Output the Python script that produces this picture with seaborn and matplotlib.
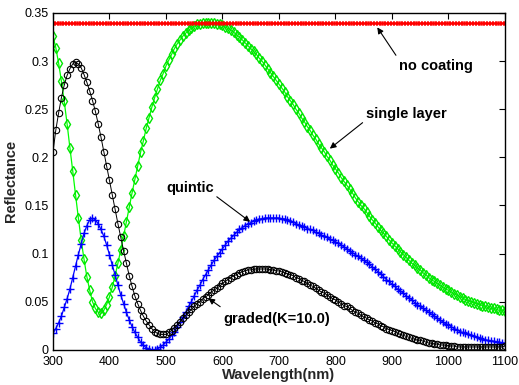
import matplotlib
matplotlib.use("Agg")
import matplotlib.pyplot as plt
import seaborn as sns

# sampling grid (nm)
wavelength = list(range(300, 1101, 5))

no_coating_level = 0.340

single_layer = [
    0.326, 0.314, 0.298, 0.279, 0.258, 0.235, 0.210, 0.186, 0.161, 0.137,
    0.114, 0.094, 0.076, 0.062, 0.050, 0.043, 0.039, 0.038, 0.041, 0.047,
    0.055, 0.065, 0.077, 0.090, 0.104, 0.118, 0.133, 0.148, 0.163, 0.177,
    0.191, 0.205, 0.217, 0.230, 0.241, 0.252, 0.262, 0.271, 0.280, 0.287,
    0.295, 0.301, 0.307, 0.313, 0.318, 0.322, 0.326, 0.329, 0.332, 0.334,
    0.336, 0.338, 0.339, 0.340, 0.340, 0.340, 0.340, 0.340, 0.339, 0.338,
    0.337, 0.335, 0.334, 0.332, 0.330, 0.327, 0.325, 0.322, 0.319, 0.316,
    0.313, 0.310, 0.307, 0.303, 0.300, 0.296, 0.292, 0.288, 0.284, 0.280,
    0.276, 0.272, 0.268, 0.263, 0.259, 0.255, 0.250, 0.246, 0.241, 0.237,
    0.232, 0.228, 0.223, 0.219, 0.214, 0.210, 0.206, 0.201, 0.197, 0.192,
    0.188, 0.184, 0.179, 0.175, 0.171, 0.167, 0.163, 0.158, 0.154, 0.150,
    0.147, 0.143, 0.139, 0.135, 0.132, 0.128, 0.124, 0.121, 0.118, 0.114,
    0.111, 0.108, 0.105, 0.102, 0.099, 0.096, 0.093, 0.090, 0.088, 0.085,
    0.083, 0.080, 0.078, 0.075, 0.073, 0.071, 0.069, 0.067, 0.065, 0.063,
    0.062, 0.060, 0.058, 0.057, 0.055, 0.054, 0.052, 0.051, 0.050, 0.049,
    0.048, 0.047, 0.046, 0.045, 0.044, 0.043, 0.043, 0.042, 0.041, 0.041,
    0.040,
]

quintic = [
    0.017, 0.022, 0.028, 0.035, 0.044, 0.053, 0.063, 0.075, 0.087, 0.099,
    0.110, 0.121, 0.129, 0.135, 0.137, 0.135, 0.131, 0.125, 0.118, 0.109,
    0.099, 0.088, 0.078, 0.067, 0.057, 0.048, 0.039, 0.031, 0.024, 0.018,
    0.013, 0.008, 0.005, 0.002, 0.001, 0.000, 0.000, 0.001, 0.003, 0.005,
    0.008, 0.011, 0.015, 0.019, 0.024, 0.029, 0.034, 0.039, 0.045, 0.050,
    0.056, 0.062, 0.067, 0.073, 0.078, 0.083, 0.088, 0.093, 0.097, 0.101,
    0.105, 0.109, 0.113, 0.116, 0.119, 0.122, 0.125, 0.127, 0.129, 0.131,
    0.132, 0.134, 0.135, 0.136, 0.136, 0.137, 0.137, 0.137, 0.137, 0.137,
    0.137, 0.136, 0.136, 0.135, 0.134, 0.133, 0.131, 0.130, 0.129, 0.128,
    0.126, 0.125, 0.124, 0.122, 0.121, 0.119, 0.118, 0.117, 0.115, 0.114,
    0.112, 0.111, 0.109, 0.107, 0.105, 0.103, 0.101, 0.099, 0.097, 0.095,
    0.093, 0.091, 0.089, 0.086, 0.084, 0.081, 0.079, 0.076, 0.073, 0.071,
    0.068, 0.066, 0.063, 0.061, 0.059, 0.056, 0.054, 0.052, 0.049, 0.047,
    0.045, 0.043, 0.041, 0.039, 0.037, 0.035, 0.033, 0.031, 0.029, 0.027,
    0.026, 0.024, 0.022, 0.021, 0.019, 0.018, 0.017, 0.016, 0.015, 0.014,
    0.013, 0.012, 0.011, 0.010, 0.010, 0.009, 0.009, 0.008, 0.008, 0.007,
    0.007,
]

graded = [
    0.205, 0.228, 0.246, 0.262, 0.275, 0.285, 0.292, 0.297, 0.299, 0.297,
    0.293, 0.286, 0.278, 0.269, 0.259, 0.248, 0.235, 0.221, 0.206, 0.191,
    0.176, 0.161, 0.146, 0.131, 0.117, 0.103, 0.090, 0.077, 0.066, 0.056,
    0.048, 0.041, 0.035, 0.030, 0.026, 0.022, 0.019, 0.017, 0.016, 0.016,
    0.016, 0.018, 0.020, 0.023, 0.026, 0.029, 0.033, 0.036, 0.039, 0.042,
    0.045, 0.048, 0.050, 0.053, 0.055, 0.057, 0.060, 0.062, 0.064, 0.066,
    0.069, 0.071, 0.073, 0.075, 0.077, 0.078, 0.080, 0.081, 0.082, 0.083,
    0.083, 0.084, 0.084, 0.084, 0.084, 0.084, 0.084, 0.083, 0.083, 0.082,
    0.082, 0.081, 0.080, 0.079, 0.078, 0.077, 0.075, 0.074, 0.072, 0.071,
    0.069, 0.067, 0.066, 0.064, 0.062, 0.060, 0.059, 0.057, 0.055, 0.053,
    0.052, 0.050, 0.048, 0.046, 0.045, 0.043, 0.041, 0.039, 0.038, 0.036,
    0.034, 0.033, 0.031, 0.030, 0.028, 0.027, 0.025, 0.024, 0.022, 0.021,
    0.020, 0.019, 0.017, 0.016, 0.015, 0.014, 0.013, 0.012, 0.011, 0.010,
    0.010, 0.009, 0.008, 0.007, 0.007, 0.006, 0.006, 0.005, 0.005, 0.005,
    0.004, 0.004, 0.004, 0.003, 0.003, 0.003, 0.003, 0.003, 0.003, 0.003,
    0.003, 0.003, 0.003, 0.003, 0.003, 0.003, 0.003, 0.003, 0.003, 0.003,
    0.004,
]

no_coating = [no_coating_level for _ in wavelength]

x_ticks = [300, 400, 500, 600, 700, 800, 900, 1000, 1100]
y_ticks = [0, 0.05, 0.1, 0.15, 0.2, 0.25, 0.3, 0.35]
y_tick_labels = ["0", "0.05", "0.1", "0.15", "0.2", "0.25", "0.3", "0.35"]

sns.set_theme(style="white")
plt.rcParams["font.family"] = ["Liberation Sans", "DejaVu Sans"]
plt.rcParams["xtick.direction"] = "in"
plt.rcParams["ytick.direction"] = "in"

fig = plt.figure(figsize=(5.19, 3.85), dpi=100)
ax = fig.add_axes([0.102, 0.0914, 0.871, 0.875])

sns.lineplot(x=wavelength, y=single_layer, ax=ax, color="#00ff00", linewidth=0.9,
             marker="d", markersize=4.8, markerfacecolor="none",
             markeredgecolor="#00e600", markeredgewidth=1.0, estimator=None, sort=False)
sns.lineplot(x=wavelength, y=quintic, ax=ax, color="#0000ff", linewidth=0.9,
             marker="+", markersize=5.5, markeredgecolor="#0000ff",
             markeredgewidth=1.0, estimator=None, sort=False)
sns.lineplot(x=wavelength, y=graded, ax=ax, color="black", linewidth=0.7,
             marker="o", markersize=4.6, markerfacecolor="none",
             markeredgecolor="black", markeredgewidth=0.8, estimator=None, sort=False)
sns.lineplot(x=wavelength, y=no_coating, ax=ax, color="#ff0000", linewidth=0.9,
             marker="x", markersize=3.5, markeredgecolor="#ff0000",
             markeredgewidth=0.9, estimator=None, sort=False)

ax.set_xlim(300, 1100)
ax.set_ylim(0, 0.35)
ax.set_xticks(x_ticks)
ax.set_xticklabels([str(v) for v in x_ticks])
ax.set_yticks(y_ticks)
ax.set_yticklabels(y_tick_labels)
ax.tick_params(axis="both", which="both", direction="in", length=4, width=0.8,
               top=True, right=True, labelsize=9, colors="black")
ax.tick_params(axis="x", pad=4.5)
ax.tick_params(axis="y", pad=3)
for s in ax.spines.values():
    s.set_visible(True)
    s.set_color("black")
    s.set_linewidth(1.0)

ax.set_xlabel("Wavelength(nm)", fontsize=10.5, fontweight="bold", labelpad=0)
ax.set_ylabel("Reflectance", fontsize=10.5, fontweight="bold", labelpad=5)

arrow = dict(arrowstyle="-|>", color="black", lw=0.8, mutation_scale=9,
             shrinkA=0, shrinkB=0)
ann_font = dict(fontsize=10.5, fontweight="bold", ha="center", va="center", color="black")

ax.annotate("", xy=(874, 0.335), xytext=(907, 0.306), arrowprops=arrow)
ax.text(978, 0.295, "no coating", **ann_font)

ax.annotate("", xy=(790, 0.209), xytext=(848, 0.236), arrowprops=arrow)
ax.text(925, 0.245, "single layer", **ann_font)

ax.annotate("", xy=(649, 0.133), xytext=(590, 0.159), arrowprops=arrow)
ax.text(543, 0.168, "quintic", **ann_font)

ax.annotate("", xy=(575, 0.0535), xytext=(596, 0.0448), arrowprops=arrow)
ax.text(696, 0.032, "graded(K=10.0)", **ann_font)

fig.savefig("out.png", dpi=100)
